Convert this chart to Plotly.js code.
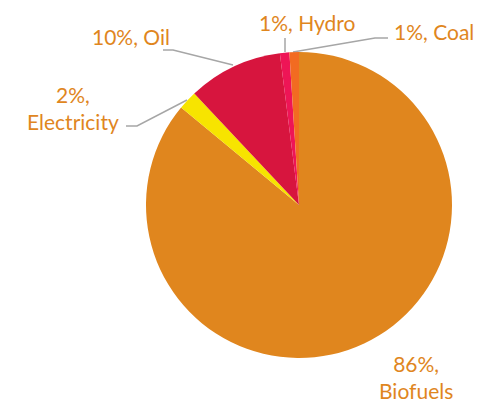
<!DOCTYPE html>
<html>
<head>
<meta charset="utf-8">
<script src="https://cdn.plot.ly/plotly-3.0.1.min.js"></script>
<style>html,body{margin:0;padding:0;background:#fff;}#chart{width:481px;height:405px;}</style>
</head>
<body>
<div id="chart"></div>
<script>
var categories = ["Biofuels", "Electricity", "Oil", "Hydro", "Coal"];
var shares = [86, 2, 10, 1, 1];
var sliceColors = ["#E0861E", "#F7E400", "#D7153E", "#EE1556", "#F26B21"];

var labelColor = "#E0861E";
var font = "Lato, 'Open Sans', sans-serif";

function lbl(i, br) {
  return shares[i] + "%," + (br ? "<br>" : " ") + categories[i];
}

var data = [{
  type: "pie",
  labels: categories,
  values: shares,
  sort: false,
  direction: "clockwise",
  rotation: 0,
  textinfo: "none",
  hoverinfo: "label+percent",
  marker: {colors: sliceColors, line: {width: 0}},
  domain: {x: [146/481, 452/481], y: [1 - 358/405, 1 - 52/405]},
  showlegend: false
}];

var annFont = {family: font, size: 21, color: labelColor};
var annotations = [
  {x: 416, y: 377, text: lbl(0, true)},
  {x: 73, y: 108, text: lbl(1, true)},
  {x: 131, y: 36, text: lbl(2, false)},
  {x: 307, y: 22, text: lbl(3, false)},
  {x: 434, y: 31, text: lbl(4, false)}
].map(function (a) {
  return {x: a.x, y: a.y, xref: "x", yref: "y", text: a.text, showarrow: false,
          font: annFont, align: "center", xanchor: "center", yanchor: "middle"};
});

var lineStyle = {color: "#A6A6A6", width: 1.5};
var shapes = [
  "M163,50 L173,50 L233,65",
  "M285,38 L285,52",
  "M388,38 L375,38 L293,52",
  "M126,126 L137,126 L187,100"
].map(function (p) {
  return {type: "path", path: p, xref: "x", yref: "y", line: lineStyle, layer: "below"};
});

var layout = {
  width: 481, height: 405,
  margin: {l: 0, r: 0, t: 0, b: 0},
  paper_bgcolor: "#ffffff",
  plot_bgcolor: "rgba(0,0,0,0)",
  xaxis: {range: [0, 481], visible: false, fixedrange: true},
  yaxis: {range: [405, 0], visible: false, fixedrange: true},
  annotations: annotations,
  shapes: shapes,
  showlegend: false
};

Plotly.newPlot("chart", data, layout, {displayModeBar: false, staticPlot: true});
</script>
</body>
</html>
